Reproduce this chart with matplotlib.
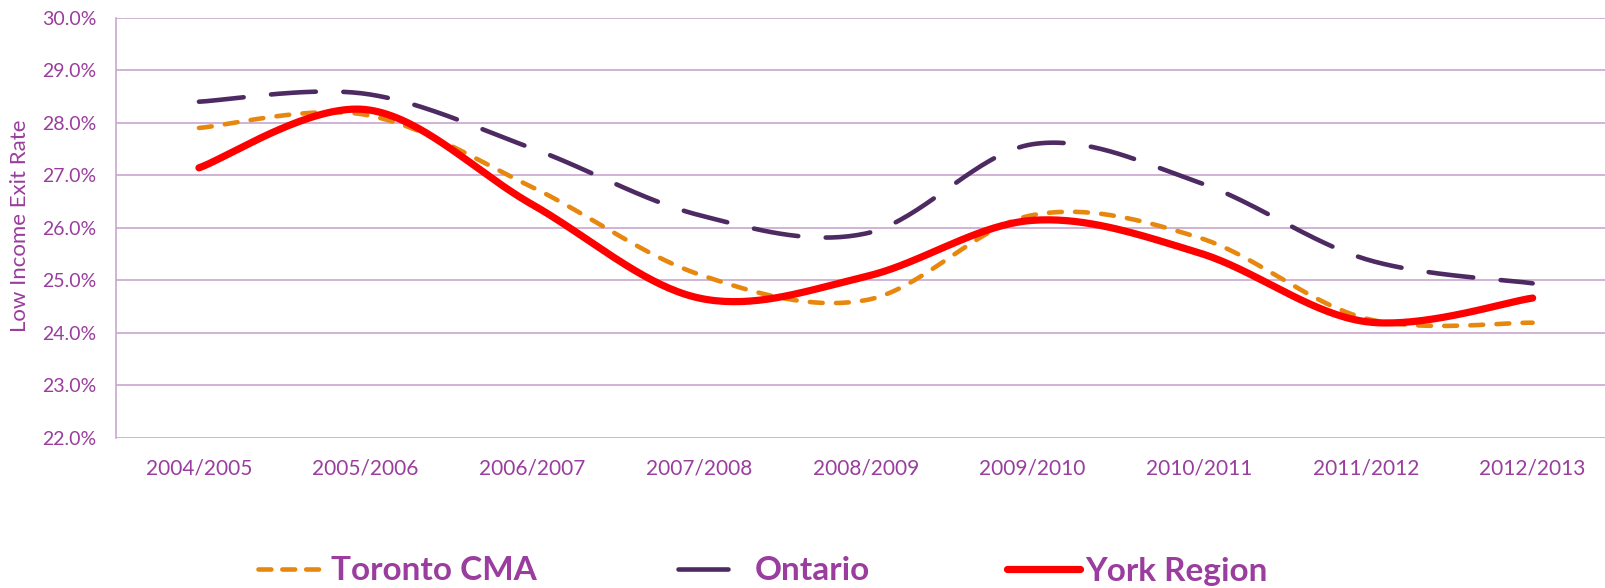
import numpy as np
import matplotlib
matplotlib.use("Agg")
import matplotlib.pyplot as plt
from matplotlib.lines import Line2D

categories = ["2004/2005", "2005/2006", "2006/2007", "2007/2008", "2008/2009",
              "2009/2010", "2010/2011", "2011/2012", "2012/2013"]
toronto = [27.90, 28.15, 26.77, 25.11, 24.62, 26.24, 25.81, 24.27, 24.19]
ontario = [28.40, 28.55, 27.51, 26.24, 25.89, 27.59, 26.86, 25.40, 24.94]
york = [27.14, 28.25, 26.44, 24.66, 25.07, 26.14, 25.52, 24.21, 24.66]
yticks = [22, 23, 24, 25, 26, 27, 28, 29, 30]

PURPLE_TXT = "#9A3D9E"
GRID = "#C9A6CF"


def smooth(xs, ys, n=40):
    xs = np.asarray(xs, float)
    ys = np.asarray(ys, float)
    P = np.column_stack([xs, ys])
    out = []
    m = len(P)
    for i in range(m - 1):
        p0 = P[i - 1] if i > 0 else P[i]
        p1 = P[i]
        p2 = P[i + 1]
        p3 = P[i + 2] if i + 2 < m else P[i + 1]
        c1 = p1 + (p2 - p0) / 6.0
        c2 = p2 - (p3 - p1) / 6.0
        t = np.linspace(0, 1, n)[:, None]
        seg = ((1 - t) ** 3) * p1 + 3 * ((1 - t) ** 2) * t * c1 + 3 * (1 - t) * t ** 2 * c2 + t ** 3 * p2
        if i > 0:
            seg = seg[1:]
        out.append(seg)
    out = np.vstack(out)
    return out[:, 0], out[:, 1]


W, H = 1606, 588
fig = plt.figure(figsize=(W / 100, H / 100), dpi=100)
left, right = 115.6, 1616.0
top, bottom = 17.7, 437.7
ax = fig.add_axes([left / W, (H - bottom) / H, (right - left) / W, (bottom - top) / H])

x = np.arange(len(categories))

xs, ys = smooth(x, ontario)
l_on, = ax.plot(xs, ys, color="#4E2A63", lw=3.3, solid_capstyle="round", dash_capstyle="round")
l_on.set_dashes([9.8, 6.0])
xs, ys = smooth(x, toronto)
l_to, = ax.plot(xs, ys, color="#E8870E", lw=3.3, dash_capstyle="round")
l_to.set_dashes([2.8, 2.9])
xs, ys = smooth(x, york)
ax.plot(xs, ys, color="#FF0000", lw=5.2, solid_capstyle="round")

ax.set_xlim(-0.5, len(categories) - 0.5)
ax.set_ylim(22, 30)
ax.set_yticks(yticks)
ax.set_yticklabels([f"{v:.1f}%" for v in yticks])
ax.set_xticks(x)
ax.set_xticklabels(categories)
ax.tick_params(length=0, colors=PURPLE_TXT)
ax.tick_params(axis="y", pad=14, labelsize=14)
ax.tick_params(axis="x", pad=15, labelsize=15)
for lab in ax.get_xticklabels() + ax.get_yticklabels():
    lab.set_fontfamily("Lato")
ax.grid(axis="y", color=GRID, lw=1.2)
ax.set_axisbelow(True)
for s in ["top", "right", "bottom"]:
    ax.spines[s].set_visible(False)
ax.spines["left"].set_color(GRID)
ax.spines["left"].set_linewidth(1.2)

fig.text(20 / W, (H - 226) / H, "Low Income Exit Rate", rotation=90, ha="center", va="center",
         color=PURPLE_TXT, fontsize=16, fontfamily="Lato")

# legend
def leg(handle, label, xc, hl, pad):
    lg = fig.legend([handle], [label], loc="center left", bbox_to_anchor=(xc / W, 17 / H),
                    frameon=False, handlelength=hl, handletextpad=pad, borderpad=0, borderaxespad=0,
                    prop={"family": "Lato", "weight": "bold", "size": 24})
    for t in lg.get_texts():
        t.set_color(PURPLE_TXT)
    return lg

h_to = Line2D([], [], color="#E8870E", lw=3.3, dash_capstyle="round")
h_to.set_dashes([2.8, 2.4])
h_on = Line2D([], [], color="#4E2A63", lw=3.3, solid_capstyle="round")
h_re = Line2D([], [], color="#FF0000", lw=5.2, solid_capstyle="round")
leg(h_to, "Toronto CMA", 258, 2.0, 0.2)
leg(h_on, "Ontario", 678, 1.5, 0.8)
leg(h_re, "York Region", 1007, 2.2, 0.15)

fig.savefig("out.png", dpi=100)
